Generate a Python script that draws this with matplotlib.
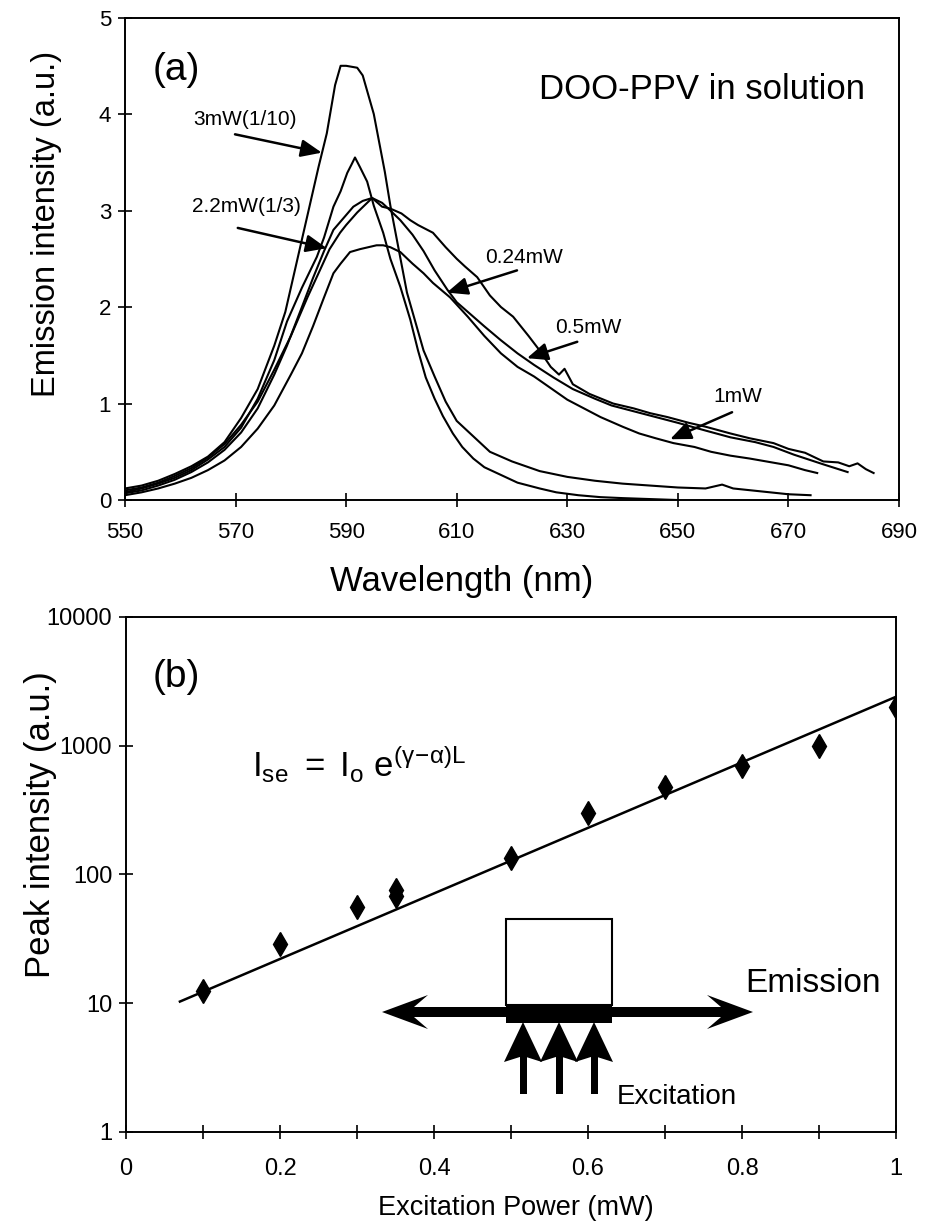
"""Two-panel figure: DOO-PPV emission spectra (a) and peak intensity vs excitation power (b)."""

import matplotlib
matplotlib.use("Agg")
import matplotlib.pyplot as plt
from matplotlib.patches import Polygon, Rectangle

plt.rcParams["font.family"] = ["Liberation Sans", "DejaVu Sans"]
plt.rcParams["mathtext.fontset"] = "custom"
plt.rcParams["mathtext.rm"] = "Liberation Sans"
plt.rcParams["mathtext.it"] = "Liberation Sans"
plt.rcParams["mathtext.sf"] = "Liberation Sans"

INK = "black"

# --- panel (a): emission spectra (wavelength nm, intensity a.u.) -------------
wl_3mw = [550, 553, 556, 559, 562, 565, 568, 571, 574, 577, 579, 581, 583, 585,
          586.5, 588, 589, 590, 591, 592, 593, 594, 595, 596, 597, 598, 599, 600,
          601, 602, 603, 604, 606, 608, 610, 613, 616, 620, 625, 630, 635, 640,
          645, 650, 655, 658, 660, 665, 670, 674]
int_3mw = [0.12, 0.15, 0.20, 0.27, 0.35, 0.45, 0.60, 0.85, 1.15, 1.60, 1.95, 2.45,
           2.95, 3.45, 3.80, 4.30, 4.50, 4.50, 4.49, 4.48, 4.40, 4.20, 4.00, 3.70,
           3.40, 3.05, 2.75, 2.45, 2.15, 1.95, 1.75, 1.55, 1.28, 1.02, 0.82, 0.66,
           0.50, 0.40, 0.30, 0.24, 0.20, 0.17, 0.15, 0.13, 0.12, 0.16, 0.12, 0.09,
           0.06, 0.05]

wl_22mw = [550, 553, 556, 559, 562, 565, 568, 571, 574, 577, 579.3, 582, 584.7, 586,
           587.7, 589, 590.2, 591, 591.6, 592.5, 593.8, 595, 596.7, 598, 599.8,
           601.6, 603, 604.4, 606, 607.5, 609.3, 611, 613, 615, 618, 621, 625, 628,
           632, 636, 640, 645, 650]
int_22mw = [0.08, 0.12, 0.17, 0.23, 0.31, 0.42, 0.55, 0.75, 1.05, 1.45, 1.85, 2.20,
            2.52, 2.72, 3.04, 3.20, 3.39, 3.48, 3.55, 3.45, 3.30, 3.05, 2.77, 2.50,
            2.21, 1.87, 1.55, 1.27, 1.05, 0.87, 0.69, 0.55, 0.43, 0.34, 0.26, 0.18,
            0.12, 0.08, 0.05, 0.03, 0.02, 0.01, 0.0]

wl_024mw = [550, 553, 556, 559, 562, 565, 568, 571, 574, 577, 580, 583, 585, 587,
            588.9, 590, 592, 593.8, 594.7, 596.5, 598, 600, 601.6, 603, 605.7, 608,
            610, 611.5, 613.7, 616, 618, 620.2, 623, 625, 627, 628.5, 629.5, 631,
            634, 638.3, 642, 645, 648.1, 652, 655, 659.5, 663, 667.3, 670, 673,
            676.3, 679, 681, 682.5, 684, 685.4]
int_024mw = [0.10, 0.13, 0.18, 0.25, 0.33, 0.44, 0.58, 0.78, 1.02, 1.35, 1.70, 2.10,
             2.35, 2.60, 2.77, 2.85, 2.98, 3.08, 3.13, 3.04, 3.02, 2.97, 2.90, 2.85,
             2.77, 2.62, 2.50, 2.42, 2.31, 2.12, 2.00, 1.90, 1.70, 1.55, 1.38, 1.30,
             1.36, 1.20, 1.10, 1.00, 0.95, 0.90, 0.86, 0.80, 0.76, 0.69, 0.64, 0.59,
             0.53, 0.49, 0.40, 0.39, 0.35, 0.38, 0.32, 0.28]

wl_05mw = [550, 553, 556, 559, 562, 565, 568, 571, 574, 577, 579.3, 582, 584, 586,
           587.7, 589.5, 591.3, 593, 594.7, 596.5, 598, 599.8, 602, 604, 606, 608.3,
           610, 613, 615, 617.9, 621, 624, 627.5, 631, 635, 638, 642, 646, 650, 655,
           659.5, 664, 667.3, 671, 676.3, 680.7]
int_05mw = [0.07, 0.10, 0.15, 0.21, 0.29, 0.39, 0.52, 0.70, 0.95, 1.30, 1.60, 2.00,
            2.30, 2.58, 2.80, 2.92, 3.04, 3.10, 3.13, 3.08, 3.00, 2.90, 2.75, 2.58,
            2.38, 2.18, 2.05, 1.90, 1.80, 1.66, 1.52, 1.40, 1.27, 1.15, 1.05, 0.98,
            0.92, 0.86, 0.80, 0.72, 0.65, 0.60, 0.55, 0.47, 0.37, 0.29]

wl_1mw = [550, 553, 556, 559, 562, 565, 568, 571, 574, 577, 580, 582, 584, 586,
          587.7, 589, 590.7, 592.5, 594, 595.5, 596.7, 598, 599.8, 602, 604, 605.7,
          608.8, 612, 615, 618, 621, 624, 627, 630, 633, 636, 640, 643, 646, 649.2,
          653, 656, 659.5, 663, 666, 670, 673, 675.2]
int_1mw = [0.05, 0.08, 0.12, 0.17, 0.23, 0.31, 0.41, 0.55, 0.74, 0.98, 1.30, 1.52,
           1.80, 2.10, 2.35, 2.45, 2.57, 2.60, 2.62, 2.64, 2.64, 2.62, 2.57, 2.45,
           2.35, 2.25, 2.10, 1.90, 1.70, 1.52, 1.38, 1.28, 1.16, 1.04, 0.95, 0.86,
           0.76, 0.69, 0.64, 0.59, 0.55, 0.50, 0.46, 0.43, 0.40, 0.36, 0.31, 0.28]

# curve labels: text, text anchor (nm, a.u.), arrow tail, arrow tip
label_text = ["3mW(1/10)", "2.2mW(1/3)", "0.24mW", "0.5mW", "1mW"]
label_pos = [(562.3, 3.94), (562.1, 3.04), (615.1, 2.51), (627.8, 1.79), (656.4, 1.07)]
arrow_tail = [(569.9, 3.79), (570.4, 2.82), (620.9, 2.38), (631.8, 1.64), (659.8, 0.91)]
arrow_tip = [(585.6, 3.60), (586.5, 2.61), (608.2, 2.15), (622.7, 1.47), (648.6, 0.63)]

wl_ticks = [550, 570, 590, 610, 630, 650, 670, 690]
int_ticks = [0, 1, 2, 3, 4, 5]

# --- panel (b): peak intensity vs excitation power ---------------------------
power_mw = [0.1, 0.2, 0.3, 0.35, 0.35, 0.5, 0.6, 0.7, 0.8, 0.9, 1.0]
peak_int = [12.5, 29, 56, 68, 76, 135, 300, 480, 690, 1000, 2000]
fit_power = [0.07, 1.0]
fit_peak = [10.3, 2400]
power_ticks = [0, 0.2, 0.4, 0.6, 0.8, 1.0]
power_ticklabels = ["0", "0.2", "0.4", "0.6", "0.8", "1"]
peak_ticks = [1, 10, 100, 1000, 10000]


def _frame(ax, lw=1.4):
    for side in ("top", "right", "left", "bottom"):
        ax.spines[side].set_linewidth(lw)
        ax.spines[side].set_color(INK)


def spectra_panel(fig):
    ax = fig.add_axes([0.1344, 0.5928, 0.8323, 0.3929])
    for wl, inten in ((wl_3mw, int_3mw), (wl_22mw, int_22mw), (wl_024mw, int_024mw),
                      (wl_05mw, int_05mw), (wl_1mw, int_1mw)):
        ax.plot(wl, inten, color=INK, lw=1.5)

    for txt, pos, tail, tip in zip(label_text, label_pos, arrow_tail, arrow_tip):
        ax.text(pos[0], pos[1], txt, fontsize=15, ha="left", va="center", color=INK)
        ax.annotate("", xy=tip, xytext=tail,
                    arrowprops=dict(arrowstyle="-|>,head_length=0.9,head_width=0.38",
                                    mutation_scale=14, color=INK, lw=1.8,
                                    shrinkA=0, shrinkB=0))

    ax.text(0.036, 0.891, "(a)", transform=ax.transAxes, fontsize=28,
            ha="left", va="center")
    ax.text(0.956, 0.85, "DOO-PPV in solution", transform=ax.transAxes,
            fontsize=25, ha="right", va="center")

    ax.set_xlim(550, 690)
    ax.set_ylim(0, 5)
    ax.set_xticks(wl_ticks)
    ax.set_yticks(int_ticks)
    ax.tick_params(direction="inout", length=10, width=1.2, labelsize=16,
                   top=False, right=False)
    ax.tick_params(axis="x", pad=11)
    ax.tick_params(axis="y", pad=5)
    ax.set_xlabel("Wavelength (nm)", fontsize=25)
    ax.set_ylabel("Emission intensity (a.u.)", fontsize=23.5)
    ax.xaxis.set_label_coords(0.435, -0.135)
    ax.yaxis.set_label_coords(-0.081, 0.572)
    _frame(ax)
    return ax


def gain_panel(fig):
    ax = fig.add_axes([0.1355, 0.0782, 0.8280, 0.4194])
    ax.set_yscale("log")
    ax.plot(fit_power, fit_peak, color=INK, lw=1.8)
    ax.plot(power_mw, peak_int, ls="none", marker="d", ms=12, color=INK, zorder=3)

    ax.text(0.035, 0.883, "(b)", transform=ax.transAxes, fontsize=28,
            ha="left", va="center")
    ax.text(0.164, 0.689,
            r"$\mathregular{I_{se}\ =\ I_o\ e^{(\gamma\!-\!\alpha)L}}$",
            transform=ax.transAxes, fontsize=25, ha="left", va="baseline")

    ax.set_xlim(0, 1)
    ax.set_ylim(1, 10000)
    ax.set_xticks(power_ticks)
    ax.set_xticklabels(power_ticklabels)
    ax.set_xticks([0.1, 0.3, 0.5, 0.7, 0.9], minor=True)
    ax.set_yticks(peak_ticks)
    ax.set_yticklabels([str(v) for v in peak_ticks])
    ax.yaxis.set_minor_locator(matplotlib.ticker.NullLocator())
    ax.tick_params(which="both", direction="inout", length=10, width=1.2,
                   labelsize=17, top=False, right=False)
    ax.tick_params(axis="x", pad=14)
    ax.tick_params(axis="y", pad=5)
    ax.set_xlabel("Excitation Power (mW)", fontsize=19.5)
    ax.set_ylabel("Peak intensity (a.u.)", fontsize=25)
    ax.xaxis.set_label_coords(0.506, -0.122)
    ax.yaxis.set_label_coords(-0.089, 0.596)
    _frame(ax)
    return ax


def sketch_overlay(fig):
    """Sample / excitation schematic drawn in figure pixel space."""
    ov = fig.add_axes([0, 0, 1, 1], zorder=5)
    ov.set_xlim(0, 930)
    ov.set_ylim(1228, 0)
    ov.axis("off")
    ov.patch.set_alpha(0)

    # emission double arrow
    ov.add_patch(Polygon([(382, 1012), (428, 995), (414, 1007), (721, 1007),
                          (707, 995), (753, 1012), (707, 1029), (721, 1017),
                          (414, 1017), (428, 1029)], closed=True, color=INK, lw=0))
    # sample block and excited stripe
    ov.add_patch(Rectangle((506, 919), 106, 86, facecolor="white", edgecolor=INK, lw=1.5))
    ov.add_patch(Rectangle((506, 1005), 106, 18, facecolor=INK, edgecolor=INK, lw=0))
    # excitation arrows
    for cx in (523, 559, 594):
        ov.add_patch(Polygon([(cx, 1022), (cx + 19, 1062), (cx, 1056), (cx - 19, 1062)],
                             closed=True, color=INK, lw=0))
        ov.add_patch(Rectangle((cx - 3.5, 1055), 7, 39, color=INK, lw=0))

    ov.text(745, 983, "Emission", fontsize=24, ha="left", va="center")
    ov.text(617, 1097, "Excitation", fontsize=20, ha="left", va="center")


def main():
    fig = plt.figure(figsize=(9.3, 12.28), dpi=100)
    spectra_panel(fig)
    gain_panel(fig)
    sketch_overlay(fig)
    fig.savefig("out.png", dpi=100, facecolor="white")
    plt.close(fig)


if __name__ == "__main__":
    main()
